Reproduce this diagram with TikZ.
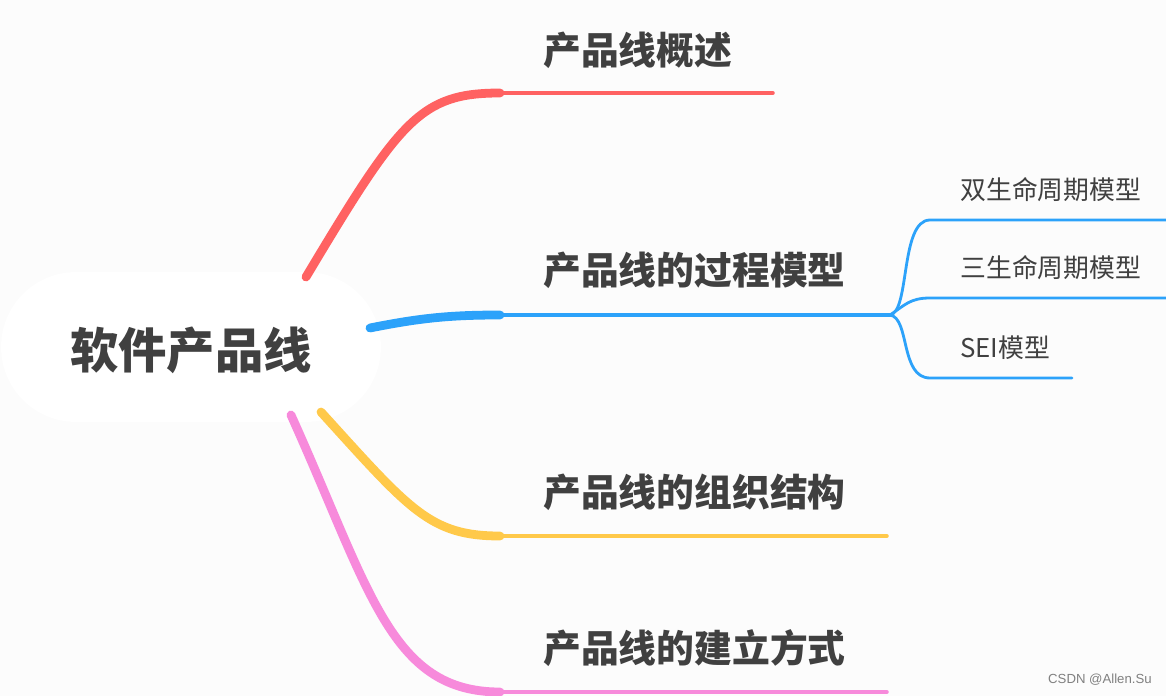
\documentclass[tikz,border=0pt]{standalone}
\usepackage{fontspec}
\newfontfamily\cjk{Noto Sans CJK SC}
\definecolor{bgcol}{HTML}{FCFCFC}
\definecolor{redbr}{HTML}{FF6262}
\definecolor{bluebr}{HTML}{2CA2FA}
\definecolor{yellowbr}{HTML}{FFC94A}
\definecolor{pinkbr}{HTML}{F78ADB}
\definecolor{txt}{HTML}{404040}
\tikzset{
  topic/.style={anchor=west, text=txt, font=\cjk\fontsize{21.5}{24}\selectfont\bfseries, inner sep=0pt},
  subtopic/.style={anchor=west, text=txt, font=\cjk\fontsize{14.7}{17}\selectfont, inner sep=0pt},
  branch/.style={line width=#1, line cap=round},
  twig/.style={line width=1.6pt, bluebr, line cap=round}
}
\begin{document}
\begin{tikzpicture}[x=0.02cm, y=-0.02cm]
\useasboundingbox[fill=bgcol] (0,0) rectangle (1166,696);
% root
\node[fill=white, rounded corners=1.5cm, minimum width=7.6cm, minimum height=3cm, inner sep=0pt] (root) at (191,347) {};
\node[text=txt, font=\cjk\fontsize{27.5}{30}\selectfont\bfseries] (rootlbl) at (191,350) {软件产品线};
% branch ends
\coordinate (r0) at (306,277); \coordinate (r1) at (500,93); \coordinate (r2) at (773,93);
\coordinate (b0) at (370,328); \coordinate (b1) at (500,315); \coordinate (b2) at (890,315);
\coordinate (y0) at (321,412); \coordinate (y1) at (500,536); \coordinate (y2) at (887,536);
\coordinate (p0) at (291,415); \coordinate (p1) at (500,692); \coordinate (p2) at (887,692);
% branches
\draw[branch=5pt, redbr] (r0) .. controls (400,120) and (420,93) .. (r1);
\draw[branch=2pt, redbr] (r1) -- (r2);
\draw[branch=5pt, bluebr] (b0) .. controls (420,318) and (450,315) .. (b1);
\draw[branch=2pt, bluebr] (b1) -- (b2);
\draw[branch=5pt, yellowbr] (y0) .. controls (410,510) and (430,536) .. (y1);
\draw[branch=2pt, yellowbr] (y1) -- (y2);
\draw[branch=5pt, pinkbr] (p0) .. controls (370,590) and (390,692) .. (p1);
\draw[branch=2pt, pinkbr] (p1) -- (p2);
% topics
\node[topic] (t1) at (543,50) {产品线概述};
\node[topic] (t2) at (543,270) {产品线的过程模型};
\node[topic] (t3) at (543,492) {产品线的组织结构};
\node[topic] (t4) at (543,648) {产品线的建立方式};
% sub branches
\coordinate (s1) at (930,220); \coordinate (s1e) at (1166,220);
\coordinate (s2) at (930,298); \coordinate (s2e) at (1166,298);
\coordinate (s3) at (930,378); \coordinate (s3e) at (1072,378);
\draw[twig] (b2) .. controls (910,312) and (900,220) .. (s1) -- (s1e);
\draw[twig] (b2) .. controls (905,305) and (910,298) .. (s2) -- (s2e);
\draw[twig] (b2) .. controls (910,318) and (900,378) .. (s3) -- (s3e);
\node[subtopic] (u1) at (960,190) {双生命周期模型};
\node[subtopic] (u2) at (960,268) {三生命周期模型};
\node[subtopic] (u3) at (960,348) {SEI模型};
% watermark
\node[anchor=east, text=gray, font=\fontspec{Liberation Sans}\fontsize{7.5}{9}\selectfont, inner sep=0pt] (wm) at (1152,680) {CSDN @Allen.Su};
\end{tikzpicture}
\end{document}
